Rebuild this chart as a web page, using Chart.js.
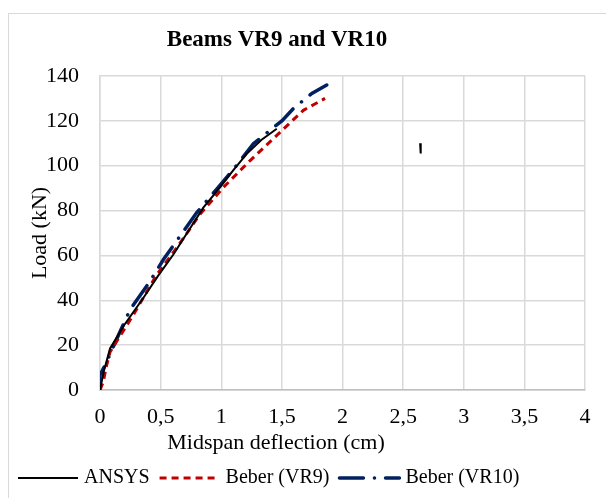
<!DOCTYPE html>
<html>
<head>
<meta charset="utf-8">
<script src="https://cdn.jsdelivr.net/npm/chart.js@4.4.0/dist/chart.umd.min.js"></script>
<style>
html,body{margin:0;padding:0;background:#fff;overflow:hidden;}
#frame{position:absolute;left:8px;top:13px;width:700px;height:600px;border:1.5px solid #d9d9d9;box-sizing:border-box;}
#wrap{position:absolute;left:0;top:0;width:606px;height:498px;}
</style>
</head>
<body>
<div id="frame"></div>
<div id="wrap"><canvas id="c" width="606" height="498"></canvas></div>
<script>
const chartTitle = 'Beams VR9 and VR10';
const xTitle = 'Midspan deflection (cm)';
const yTitle = 'Load (kN)';
const xTicks = [0, 0.5, 1, 1.5, 2, 2.5, 3, 3.5, 4];
const yTicks = [0, 20, 40, 60, 80, 100, 120, 140];

const ansysX = [0, 0.03, 0.083, 0.2, 0.357, 0.48, 0.605, 0.73, 0.852, 0.99, 1.1, 1.21, 1.33, 1.458, 2.64, 2.64, 2.645];
const ansysY = [0, 8, 18.5, 29, 41, 51, 60.4, 71, 81.3, 90.3, 98, 105.3, 111.5, 116.5, null, 110, 105.5];

const vr9X = [0, 0.027, 0.05, 0.083, 0.275, 0.468, 0.633, 0.825, 1.017, 1.238, 1.458, 1.677, 1.856];
const vr9Y = [0, 3.6, 10, 17, 33.5, 51.4, 63.4, 78.4, 90.3, 102.3, 113.5, 124.7, 130];

const vr10X = [0, 0, 0.055, 0.165, 0.248, 0.413, 0.523, 0.66, 0.798, 0.963, 1.114, 1.265, 1.417, 1.5, 1.595, 1.747, 1.87];
const vr10Y = [0, 6.6, 12.6, 26, 35.8, 48.5, 58.2, 68.6, 79.1, 89.6, 99.3, 109.8, 116.5, 120, 125.5, 132.2, 136];

function pts(xs, ys){ return xs.map((x,i)=>({x:x, y:ys[i]})); }

const FONT = "'Liberation Serif','Times New Roman',serif";

const extras = {
  id:'extras',
  afterDraw(chart){
    const ctx = chart.ctx;
    const lg = chart.legend;
    if (lg && lg.legendHitBoxes) {
      lg.legendHitBoxes.forEach((hb,i)=>{
        const ds = chart.data.datasets[i];
        const y = hb.top + hb.height/2;
        ctx.save();
        ctx.strokeStyle = ds.borderColor;
        ctx.lineWidth = ds.borderWidth;
        ctx.setLineDash(ds.borderDash || []);
        ctx.lineCap = ds.borderCapStyle || 'butt';
        ctx.beginPath();
        ctx.moveTo(hb.left, y);
        ctx.lineTo(hb.left + 60, y);
        ctx.stroke();
        ctx.restore();
      });
    }
    ctx.save();
    ctx.fillStyle = '#000';
    ctx.textAlign = 'center';
    ctx.textBaseline = 'middle';
    ctx.font = 'bold 23px ' + FONT;
    ctx.fillText(chartTitle, 277, 40);
    ctx.font = '22px ' + FONT;
    ctx.fillText(xTitle, 276, 443);
    ctx.restore();
  }
};

new Chart(document.getElementById('c'), {
  type: 'scatter',
  data: {
    datasets: [
      {label:'ANSYS', data:pts(ansysX, ansysY), showLine:true, borderColor:'#000000', backgroundColor:'#000000', borderWidth:2, pointRadius:0, spanGaps:false, tension:0},
      {label:'Beber (VR9)', data:pts(vr9X, vr9Y), showLine:true, borderColor:'#c00000', backgroundColor:'#c00000', borderWidth:3, borderDash:[7,5], pointRadius:0, tension:0},
      {label:'Beber (VR10)', data:pts(vr10X, vr10Y), showLine:true, borderColor:'#002060', backgroundColor:'#002060', borderWidth:3.5, borderDash:[24,11,0.1,11], borderCapStyle:'round', pointRadius:0, tension:0}
    ]
  },
  plugins:[extras],
  options: {
    responsive:false, animation:false,
    layout:{padding:{left:8,right:21,top:76,bottom:0}},
    plugins:{
      title:{display:false},
      legend:{position:'bottom', align:'start', labels:{color:'#000', font:{family:FONT, size:20}, boxWidth:56, boxHeight:2, padding:10,
        generateLabels(chart){
          const items = Chart.defaults.plugins.legend.labels.generateLabels(chart);
          items.forEach(it=>{it.fillStyle='rgba(0,0,0,0)'; it.strokeStyle='rgba(0,0,0,0)'; it.lineWidth=0;});
          return items;
        }}},
      tooltip:{enabled:false}
    },
    scales:{
      x:{type:'linear', min:0, max:4,
        afterBuildTicks(s){ s.ticks = xTicks.map(v=>({value:v})); },
        afterFit(s){ s.height = 68; },
        ticks:{color:'#000', font:{family:FONT, size:22}, padding:14, callback:v=>String(v).replace('.',','), maxRotation:0},
        grid:{color:'#d9d9d9', lineWidth:1.5, drawTicks:false},
        border:{color:'#bfbfbf', width:1.5},
        title:{display:false}
      },
      y:{type:'linear', min:0, max:140,
        afterBuildTicks(s){ s.ticks = yTicks.map(v=>({value:v})); },
        afterFit(s){ s.width = 92; },
        ticks:{color:'#000', font:{family:FONT, size:22}, padding:21},
        grid:{color:'#d9d9d9', lineWidth:1.5, drawTicks:false},
        border:{color:'#d9d9d9', width:1.5},
        title:{display:true, text:yTitle, color:'#000', font:{family:FONT, size:22}, padding:{top:19,bottom:0}}
      }
    }
  }
});
</script>
</body>
</html>
